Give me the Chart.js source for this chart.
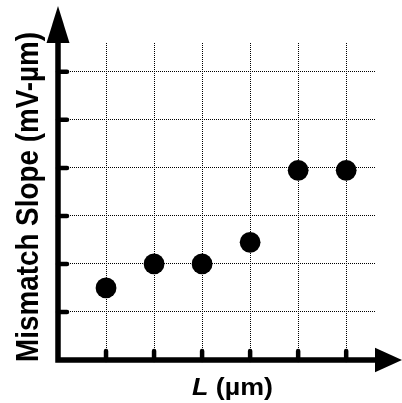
<!DOCTYPE html>
<html>
<head>
<meta charset="utf-8">
<script src="https://cdn.jsdelivr.net/npm/chart.js@4.4.1/dist/chart.umd.min.js"></script>
<style>
  html, body { margin: 0; padding: 0; background: #ffffff; }
  canvas { display: block; }
</style>
</head>
<body>
<canvas id="slopeChart" width="402" height="403"></canvas>
<script>
// data (grid units)
const lengths = [1, 2, 3, 4, 5, 6];
const slopes = [1.5, 2, 2, 2.45, 3.95, 3.95];
const xTickValues = [1, 2, 3, 4, 5, 6];
const yTickValues = [1, 2, 3, 4, 5, 6];
const axisMax = 6.6;
const xTitle = "L (µm)";
const yTitle = "Mismatch Slope (mV-µm)";

const FONT = "\"Liberation Sans\", Arial, sans-serif";

// axes with arrows, inward tick stubs and the stretched bold titles
const axesPlugin = {
  id: "axesPlugin",
  afterDraw(chart) {
    const { ctx, chartArea, scales } = chart;
    const x0 = chartArea.left;
    const y0 = chartArea.bottom;
    ctx.save();
    ctx.fillStyle = "#000";
    ctx.strokeStyle = "#000";

    // tick stubs
    ctx.lineWidth = 4.5;
    ctx.lineCap = "round";
    yTickValues.forEach(v => {
      const py = scales.y.getPixelForValue(v);
      ctx.beginPath();
      ctx.moveTo(x0, py);
      ctx.lineTo(x0 + 9, py);
      ctx.stroke();
    });
    xTickValues.forEach(v => {
      const px = scales.x.getPixelForValue(v);
      ctx.beginPath();
      ctx.moveTo(px, y0);
      ctx.lineTo(px, y0 - 9);
      ctx.stroke();
    });

    // axis lines
    ctx.lineCap = "butt";
    ctx.lineWidth = 5.5;
    ctx.beginPath();
    ctx.moveTo(x0, y0 + 2.75);
    ctx.lineTo(x0, chartArea.top);
    ctx.moveTo(x0 - 2.75, y0);
    ctx.lineTo(chartArea.right, y0);
    ctx.stroke();

    // arrow heads
    ctx.beginPath();
    ctx.moveTo(x0 - 11.5, chartArea.top);
    ctx.lineTo(x0 + 11.5, chartArea.top);
    ctx.lineTo(x0, 6);
    ctx.closePath();
    ctx.fill();
    ctx.beginPath();
    ctx.moveTo(chartArea.right, y0 - 12.3);
    ctx.lineTo(chartArea.right, y0 + 12.3);
    ctx.lineTo(402, y0);
    ctx.closePath();
    ctx.fill();

    // x title: italic bold L, then bold (µm)
    ctx.textBaseline = "alphabetic";
    ctx.textAlign = "left";
    const italicFont = "italic bold 23px " + FONT;
    const boldFont = "bold 23px " + FONT;
    ctx.font = italicFont;
    const wL = ctx.measureText("L").width;
    ctx.font = boldFont;
    const rest = xTitle.slice(1);
    const wRest = ctx.measureText(rest).width;
    const sx = 81 / (wL + wRest);
    ctx.save();
    ctx.translate(192, 394.5);
    ctx.scale(sx, 1);
    ctx.font = italicFont;
    ctx.fillText("L", 0, 0);
    ctx.font = boldFont;
    ctx.fillText(rest, wL, 0);
    ctx.restore();

    // y title (baseline on the right, letters rising to the left)
    ctx.font = "bold 27.5px " + FONT;
    const wY = ctx.measureText(yTitle).width;
    ctx.save();
    ctx.translate(37.8, 197);
    ctx.scale(1.16, 330 / wY);
    ctx.rotate(-Math.PI / 2);
    ctx.textAlign = "center";
    ctx.textBaseline = "alphabetic";
    ctx.fillText(yTitle, 0, 0);
    ctx.restore();

    ctx.restore();
  }
};

const gridOpts = {
  color: "#000",
  lineWidth: 1,
  drawTicks: false
};

new Chart(document.getElementById("slopeChart"), {
  type: "scatter",
  data: {
    datasets: [{
      data: lengths.map((l, i) => ({ x: l, y: slopes[i] })),
      backgroundColor: "#000",
      borderWidth: 0,
      pointRadius: 10.4,
      pointHoverRadius: 10.4
    }]
  },
  options: {
    responsive: false,
    animation: false,
    events: [],
    layout: {
      padding: { left: 58, right: 27, top: 43, bottom: 43 }
    },
    plugins: {
      legend: { display: false },
      tooltip: { enabled: false }
    },
    scales: {
      x: {
        type: "linear",
        min: 0,
        max: axisMax,
        ticks: { display: false, stepSize: 1, includeBounds: false },
        grid: gridOpts,
        border: { display: false, dash: [1, 1] },
        title: { display: false }
      },
      y: {
        type: "linear",
        min: 0,
        max: axisMax,
        ticks: { display: false, stepSize: 1, includeBounds: false },
        grid: gridOpts,
        border: { display: false, dash: [1, 1] },
        title: { display: false }
      }
    }
  },
  plugins: [axesPlugin]
});
</script>
</body>
</html>
